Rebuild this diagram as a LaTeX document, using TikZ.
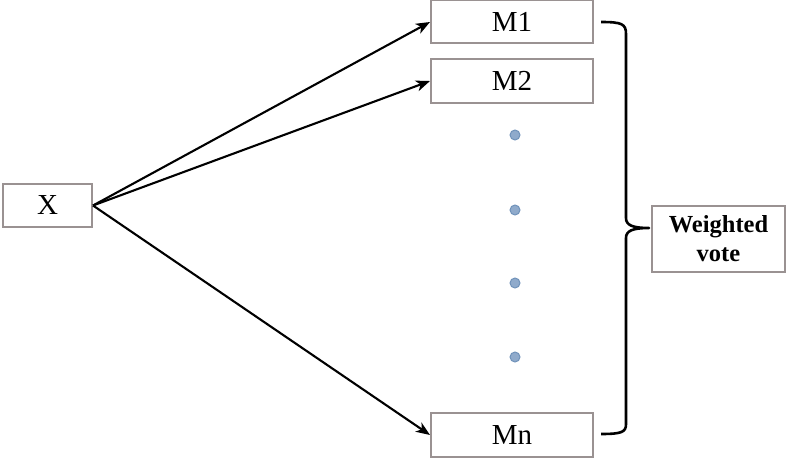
\documentclass[tikz,border=0pt]{standalone}
\usepackage{fontspec}
\setmainfont{Liberation Serif}
\usetikzlibrary{arrows.meta,calc}
\definecolor{boxgray}{HTML}{9A9292}
\definecolor{dotfill}{HTML}{8FAACB}
\definecolor{dotedge}{HTML}{7092BA}
\tikzset{
  mbox/.style={draw=boxgray, line width=2pt, fill=white, minimum width=162pt, minimum height=43pt, inner sep=0pt, font=\fontsize{29}{30}\selectfont},
  wbox/.style={draw=boxgray, line width=2pt, fill=white, minimum width=133pt, minimum height=66pt, inner sep=0pt, align=center, font=\fontsize{24.5}{29}\selectfont\bfseries},
  conn/.style={line width=2.1pt, -{Stealth[length=14pt,width=11pt,inset=4pt]}},
  dotc/.style={circle, fill=dotfill, draw=dotedge, line width=1pt, minimum size=10pt, inner sep=0pt},
  brace/.style={line width=2.6pt, line join=round}
}
\begin{document}
\begin{tikzpicture}[x=1pt,y=-1pt]
\useasboundingbox (0,0) rectangle (797,460);
\node[mbox, minimum width=89pt] (X) at (47.5,205.5) {X};
\node[mbox] (M1) at (512,22) {M1};
\node[mbox] (M2) at (512,81) {M2};
\node[mbox, minimum height=44pt] (Mn) at (512,435) {Mn};
\node[wbox] (W) at (718.5,239) {Weighted\\vote};
\node[dotc] (d1) at (515,135) {};
\node[dotc] (d2) at (515,210) {};
\node[dotc] (d3) at (515,283) {};
\node[dotc] (d4) at (515,357) {};
\draw[conn] (X.east) -- (M1.west);
\draw[conn] (X.east) -- (M2.west);
\draw[conn] (X.east) -- (Mn.west);
\coordinate (bt) at ($(M1.east)+(7,0)$);
\coordinate (bb) at ($(Mn.east)+(7,-1)$);
\coordinate (tip) at ($(W.west)+(-2,-11)$);
\draw[brace] (bt) .. controls (622,22) and (626,24) .. (626,34)
  -- (626,218) .. controls (626,225) and (632,228) .. (tip)
  .. controls (632,228) and (626,231) .. (626,238)
  -- (626,424) .. controls (626,432) and (622,434) .. (bb);
\end{tikzpicture}
\end{document}
